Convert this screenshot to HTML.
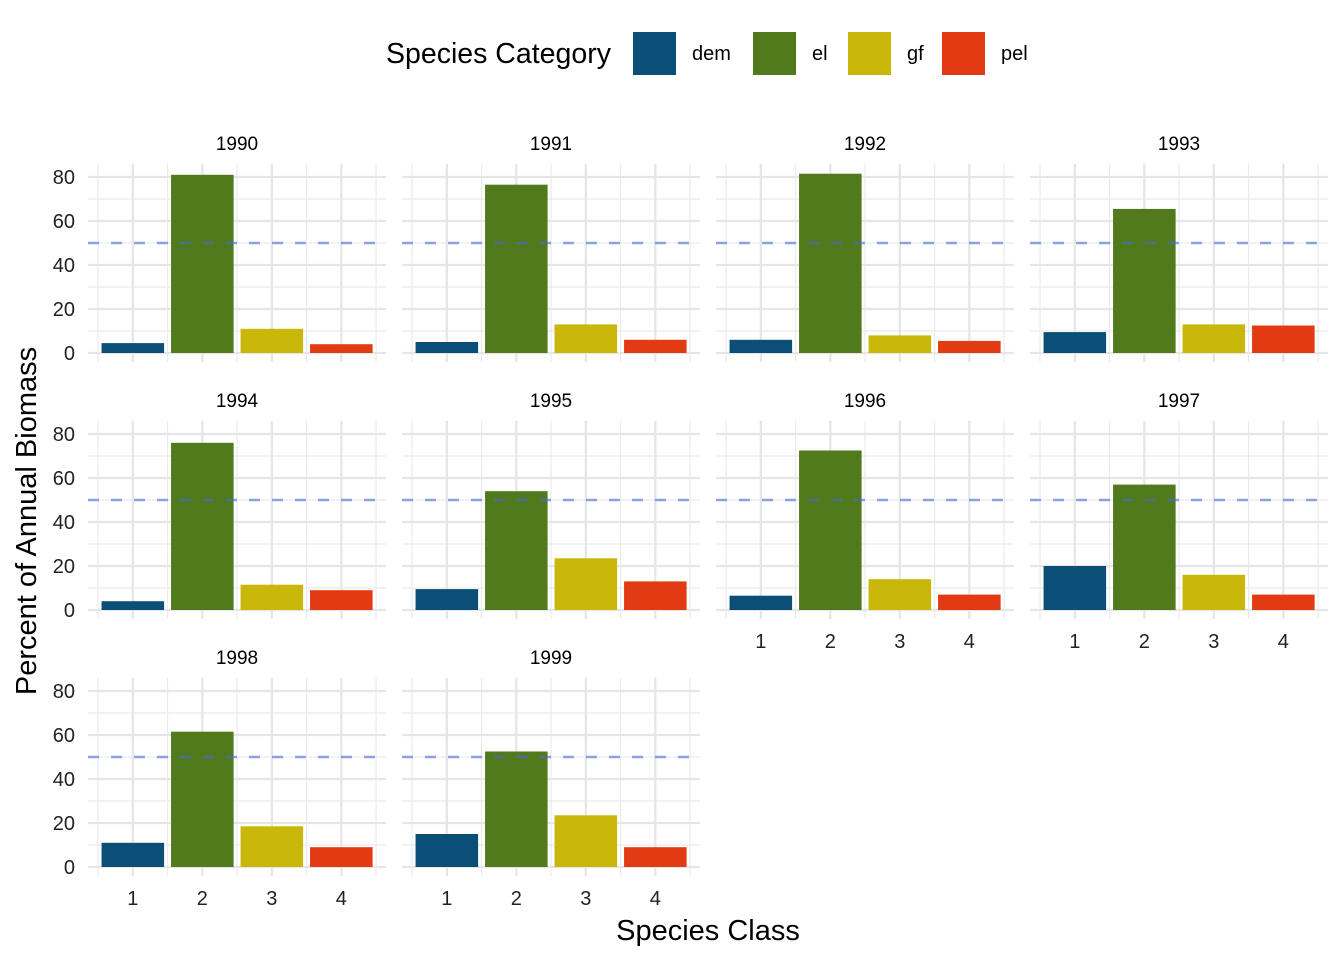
<!DOCTYPE html>
<html><head><meta charset="utf-8"><style>
body{margin:0;background:#fff;font-family:"Liberation Sans",Arial,sans-serif;}
svg text{font-family:"Liberation Sans",Arial,sans-serif;}
</style></head><body>
<svg id="chart" width="1344" height="960" xmlns="http://www.w3.org/2000/svg">
<rect width="1344" height="960" fill="#fff"/>
<g id="legend">
<text x="386" y="63" font-size="28.5" fill="#000">Species Category</text>
</g>
<g id="panels"></g>
<text x="708" y="940" font-size="29" text-anchor="middle">Species Class</text>
<text transform="translate(36,521) rotate(-90)" font-size="29" text-anchor="middle">Percent of Annual Biomass</text>
</svg>
<script>
const years=["1990","1991","1992","1993","1994","1995","1996","1997","1998","1999"];
const categories=["dem","el","gf","pel"];
const classes=[1,2,3,4];
const dem=[4.5,5,6,9.5,4,9.5,6.5,20,11,15];
const el=[81,76.5,81.5,65.5,76,54,72.5,57,61.5,52.5];
const gf=[11,13,8,13,11.5,23.5,14,16,18.5,23.5];
const pel=[4,6,5.5,12.5,9,13,7,7,9,9];
const colors=["#0b4f77","#517a1d","#c9b70a","#e23b13"];
const yTicks=[0,20,40,60,80];
const refLine=50;
const NS="http://www.w3.org/2000/svg";
const svg=document.getElementById('chart');
function mk(t,a,p){const e=document.createElementNS(NS,t);for(const k in a)e.setAttribute(k,a[k]);(p||svg).appendChild(e);return e;}
const lg=document.getElementById('legend');
const lgX=[633,753,848,942];
categories.forEach((c,i)=>{
 const r=mk('rect',{x:lgX[i],y:32,width:43,height:43,fill:colors[i]},lg);
 
 
 const t=mk('text',{x:lgX[i]+59,y:60,'font-size':20},lg);t.textContent=c;
 
 
});
const series=[dem,el,gf,pel];
const pw=298,colStep=314,left0=88,rowStep=257;
const pxPerUnit=69.5, x0=0.355;
const yPer=2.2;
const panels=document.getElementById('panels');
years.forEach((yr,i)=>{
 const col=i%4,row=Math.floor(i/4);
 const L=left0+col*colStep, base=353+row*rowStep;
 const top=base-86*yPer, bot=base+4.1*yPer;
 const X=v=>L+(v-x0)*pxPerUnit;
 const Y=v=>base-v*yPer;
 const g=mk('g',{},panels);
 
 
 for(let v=10;v<=80;v+=20)mk('line',{x1:L,x2:L+pw,y1:Y(v),y2:Y(v),stroke:'#ebebeb','stroke-width':1.2},g);
 for(let v=0.5;v<=4.5;v+=1)mk('line',{x1:X(v),x2:X(v),y1:top,y2:bot,stroke:'#ebebeb','stroke-width':1.2},g);
 yTicks.forEach(v=>mk('line',{x1:L,x2:L+pw,y1:Y(v),y2:Y(v),stroke:'#e6e6e6','stroke-width':2.3},g));
 classes.forEach(v=>mk('line',{x1:X(v),x2:X(v),y1:top,y2:bot,stroke:'#e6e6e6','stroke-width':2.3},g));
 classes.forEach((c,j)=>{
  const val=series[j][i];
  const b=mk('rect',{x:X(c-0.45),y:Y(val),width:0.9*pxPerUnit,height:val*yPer,fill:colors[j]},g);
  
  
 });
 const d=mk('line',{x1:L,x2:L+pw,y1:Y(refLine),y2:Y(refLine),stroke:'rgba(70,105,220,0.6)','stroke-width':2.6,'stroke-dasharray':'11 12'},g);
 
 
 const s=mk('text',{x:L+pw/2,y:top-14,'font-size':19,'text-anchor':'middle'},g);s.textContent=yr;
 
 
 if(col===0){yTicks.forEach(v=>{const t=mk('text',{x:75,y:Y(v)+7,'font-size':20,'text-anchor':'end',fill:'#222'},g);t.textContent=v;
  
  });}
 const bottomPanel=(i+4>=years.length);
 if(bottomPanel){classes.forEach(c=>{const t=mk('text',{x:X(c),y:base+38,'font-size':20,'text-anchor':'middle',fill:'#222'},g);t.textContent=c;
  
  });}
});
</script>
</body></html>
